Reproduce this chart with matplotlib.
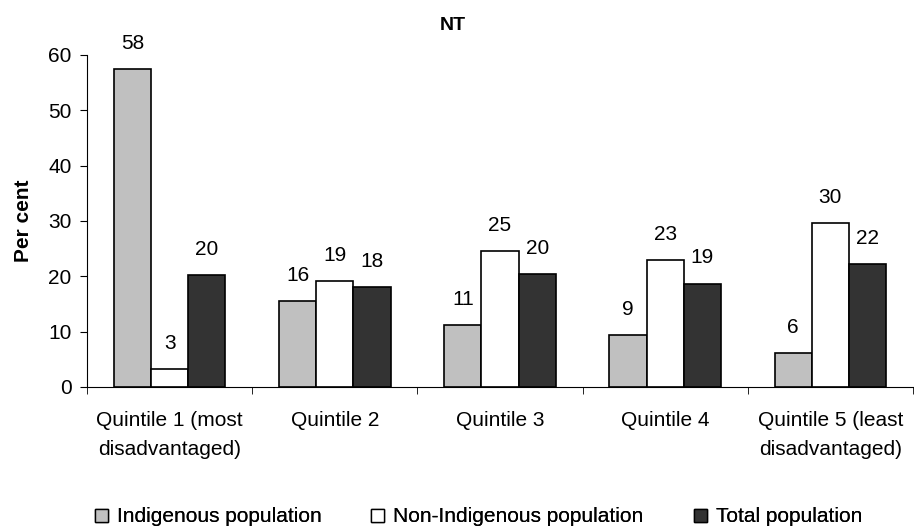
import numpy as np
import matplotlib.pyplot as plt
from matplotlib.patches import Patch

plt.rcParams['font.family'] = ['Liberation Sans', 'DejaVu Sans']

categories = ["Quintile 1 (most\ndisadvantaged)", "Quintile 2", "Quintile 3",
              "Quintile 4", "Quintile 5 (least\ndisadvantaged)"]
indigenous = [57.5, 15.5, 11.2, 9.4, 6.1]
non_indigenous = [3.2, 19.2, 24.6, 23.0, 29.6]
total = [20.2, 18.1, 20.4, 18.7, 22.3]
series_names = ["Indigenous population", "Non-Indigenous population", "Total population"]
colors = ["#c0c0c0", "#ffffff", "#333333"]

W, H = 914, 530
fig = plt.figure(figsize=(W / 100, H / 100), dpi=100)
ax = fig.add_axes([87 / W, 1 - 387 / H, 826 / W, 332 / H])

x = np.arange(len(categories))
w = 0.225
fs = 15
for i, vals in enumerate([indigenous, non_indigenous, total]):
    pos = x + (i - 1) * w
    ax.bar(pos, vals, width=w, color=colors[i], edgecolor="black", linewidth=1.2)
    for p, v in zip(pos, vals):
        ax.text(p, v + 2.9, str(int(round(v))), ha="center", va="bottom", fontsize=fs)

ax.set_xlim(-0.5, len(categories) - 0.5)
ax.set_ylim(0, 60)
ax.set_yticks(range(0, 61, 10))
ax.set_xticks(x)
ax.set_xticklabels(categories, fontsize=fs, linespacing=1.68)
ax.tick_params(axis="x", length=0, pad=17)
ax.set_xticks(np.arange(-0.5, len(categories)), minor=True)
ax.tick_params(axis="x", which="minor", length=5, direction="out")
ax.tick_params(axis="y", labelsize=fs, length=5, pad=6)
ax.spines["top"].set_visible(False)
ax.spines["right"].set_visible(False)
ax.set_ylabel("Per cent", fontsize=fs, fontweight="bold", labelpad=11)

fig.text(453 / W, 1 - 25 / H, "NT", fontsize=14, fontweight="bold", ha="center", va="center")

# legend entries placed one by one, as in the reference
leg_x = [95, 371, 694]
for c, n, lx in zip(colors, series_names, leg_x):
    h = Patch(facecolor=c, edgecolor="black", label=n)
    lg = fig.legend(handles=[h], loc="center left", bbox_to_anchor=(lx / W, 1 - 517 / H),
                    frameon=False, fontsize=fs, handlelength=0.6, handleheight=0.6,
                    handletextpad=0.45, borderpad=0, borderaxespad=0)
    fig.add_artist(lg)

plt.savefig("out.png", dpi=100)
